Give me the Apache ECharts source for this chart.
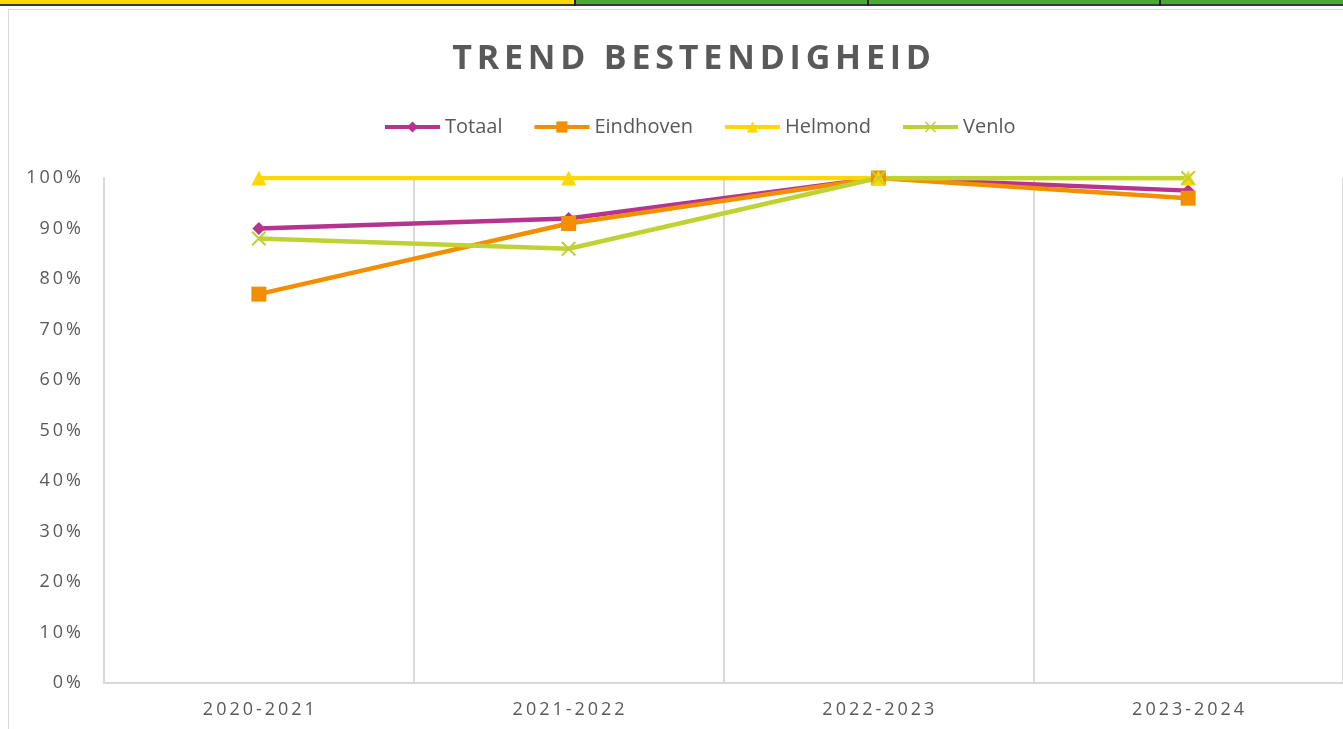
<!DOCTYPE HTML>
<html lang="nl">
  <head>
    <meta charset="utf-8" />
    <script src="https://cdn.jsdelivr.net/npm/echarts@6.0.0/dist/echarts.min.js"></script>
    <style>
      html, body {
        margin: 0;
        padding: 0;
        width: 1343px;
        height: 729px;
        overflow: hidden;
        background: #fff;
        font-family: "Open Sans", sans-serif;
      }
      /* spreadsheet cells above the chart */
      #cells {
        position: absolute;
        left: 0; top: 0;
        width: 1343px; height: 4px;
        border-bottom: 2px solid #3a3a3a;
        background: linear-gradient(to right, #ffd700 0, #ffd700 575px, #4ea72e 575px);
      }
      .sep {
        position: absolute; top: 0; width: 2px; height: 6px; background: #222;
      }
      #frame {
        position: absolute;
        left: 8px; top: 9px;
        width: 1400px; height: 800px;
        border-left: 1px solid #d9d9d9;
        border-top: 1px solid #d9d9d9;
      }
      #title {
        position: absolute;
        left: 2px; top: 33px;
        width: 1384px;
        text-align: center;
        font-size: 34px;
        font-weight: bold;
        letter-spacing: 4.8px;
        color: #595959;
        z-index: 2;
      }
      #chart {
        position: absolute;
        left: 0; top: 0;
        width: 1343px; height: 729px;
      }
    </style>
  </head>
  <body>
    <div id="cells"></div>
    <div class="sep" style="left:574px"></div>
    <div class="sep" style="left:867px"></div>
    <div class="sep" style="left:1159px"></div>
    <div id="frame"></div>
    <div id="title">TREND BESTENDIGHEID</div>
    <div id="chart"></div>
    <script>
      // schooljaren
      var years = ['2020-2021', '2021-2022', '2022-2023', '2023-2024'];
      var yTicks = [0, 0.1, 0.2, 0.3, 0.4, 0.5, 0.6, 0.7, 0.8, 0.9, 1];

      var totaal    = [0.90, 0.92, 1.00, 0.975];
      var eindhoven = [0.77, 0.91, 1.00, 0.96];
      var helmond   = [1.00, 1.00, 1.00, 1.00];
      var venlo     = [0.88, 0.86, 1.00, 1.00];

      var names  = ['Totaal', 'Eindhoven', 'Helmond', 'Venlo'];
      var colors = ['#b5348f', '#f28e00', '#ffd700', '#bfd234'];

      // an "x" marker as a filled outline
      var cross = 'path://M0,1L1,0L5,4L9,0L10,1L6,5L10,9L9,10L5,6L1,10L0,9L4,5Z';

      // excel spreads the axis labels out a bit
      function spaced(s) {
        return String(s).split('').join('\u2009');
      }

      function makeSeries(name, data, color, symbol, size) {
        return {
          name: name,
          type: 'line',
          data: data,
          symbol: symbol,
          symbolSize: size,
          showAllSymbol: true,
          lineStyle: { color: color, width: 4.5 },
          itemStyle: { color: color },
          emphasis: { disabled: true },
          z: 2
        };
      }

      var chart = echarts.init(document.getElementById('chart'));
      var option = {
        animation: false,
        color: colors,
        textStyle: { fontFamily: 'Open Sans' },
        legend: {
          data: names,
          top: 112,
          left: 378,
          itemWidth: 55,
          itemHeight: 14,
          itemGap: 30,
          lineStyle: { width: 4 },
          textStyle: { color: '#595959', fontSize: 20, fontFamily: 'Open Sans' }
        },
        grid: {
          left: 104,
          top: 178,
          width: 1244,
          bottom: 46
        },
        xAxis: {
          type: 'category',
          data: years,
          boundaryGap: true,
          axisLine: { lineStyle: { color: '#d9d9d9', width: 2 } },
          axisTick: { show: false },
          axisLabel: {
            color: '#595959',
            fontSize: 18,
            margin: 18,
            formatter: spaced
          },
          splitLine: { show: true, lineStyle: { color: '#d9d9d9', width: 2 } }
        },
        yAxis: {
          type: 'value',
          min: yTicks[0],
          max: yTicks[yTicks.length - 1],
          interval: 0.1,
          axisLine: { show: true, lineStyle: { color: '#d9d9d9', width: 2 } },
          axisTick: { show: false },
          splitLine: { show: false },
          axisLabel: {
            color: '#595959',
            fontSize: 18,
            margin: 23,
            formatter: function (v) { return spaced(Math.round(v * 100) + '%'); }
          }
        },
        series: [
          makeSeries(names[0], totaal, colors[0], 'diamond', 13),
          makeSeries(names[1], eindhoven, colors[1], 'rect', 15),
          makeSeries(names[2], helmond, colors[2], 'triangle', 15),
          makeSeries(names[3], venlo, colors[3], cross, 15)
        ]
      };
      chart.setOption(option);
    </script>
  </body>
</html>
